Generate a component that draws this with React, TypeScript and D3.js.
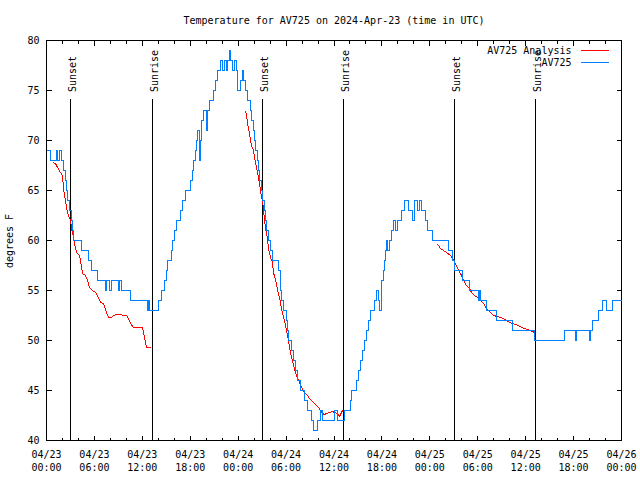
import { useEffect, useRef } from 'react';
import * as d3 from 'd3';

// hours since 2024-04-23 00:00 UTC
const START = Date.UTC(2024, 3, 23, 0, 0);
const END = Date.UTC(2024, 3, 26, 0, 0);

// AV725 observations (value holds from each hour until the next)
const obsHours = [
  0, 0.5, 1.25, 1.38, 1.63, 1.88, 2.13, 2.38, 2.5, 2.63,
  2.88, 3.13, 3.26, 3.32, 4.38, 5.32, 5.63, 6.35, 7.39, 7.51,
  7.95, 8.08, 9.02, 9.14, 9.39, 10.52, 12.65, 12.77, 12.9, 14.02,
  14.4, 14.78, 15.03, 15.21, 15.59, 15.78, 16.03, 16.34, 16.72, 17.03,
  17.41, 18.09, 18.28, 18.41, 18.6, 18.78, 18.97, 19.16, 19.28, 19.47,
  19.72, 20.04, 20.22, 20.47, 20.91, 21.22, 21.47, 21.85, 22.1, 22.29,
  22.54, 22.66, 22.92, 23.1, 23.29, 23.48, 23.73, 23.92, 24.23, 24.48,
  24.73, 24.92, 25.23, 25.54, 25.73, 25.92, 26.05, 26.23, 26.36, 26.55,
  26.67, 26.86, 27.05, 27.24, 27.36, 27.55, 27.8, 28.05, 28.24, 29.11,
  29.24, 29.36, 29.43, 29.68, 29.99, 30.18, 30.3, 30.62, 30.87, 31.18,
  31.49, 31.81, 32.31, 32.68, 33.12, 33.43, 33.94, 34.25, 34.5, 36.0,
  36.5, 37.32, 38.07, 38.25, 38.82, 39.07, 39.32, 39.57, 39.82, 40.07,
  40.32, 40.63, 41.07, 41.26, 41.51, 41.7, 41.89, 42.01, 42.2, 42.32,
  42.45, 42.57, 42.76, 42.95, 43.2, 43.45, 43.7, 43.95, 44.45, 44.83,
  45.33, 45.83, 46.08, 46.46, 46.65, 46.96, 47.46, 47.71, 48.34, 50.34,
  50.84, 51.09, 52.03, 52.97, 54.1, 54.22, 54.35, 55.1, 56.41, 58.35,
  61.11, 64.87, 66.18, 66.37, 68.0, 68.18, 68.37, 69.12, 69.56, 70.06,
  70.87, 72,
];
const obsTemps = [
  69, 68, 69, 68, 69, 68, 67, 66, 65, 64,
  63, 62, 61, 60, 59, 58, 57, 56, 55, 56,
  55, 56, 55, 56, 55, 54, 53, 54, 53, 54,
  55, 56, 57, 58, 59, 60, 61, 62, 63, 64,
  65, 66, 67, 68, 69, 70, 71, 68, 70, 72,
  73, 71, 73, 74, 75, 76, 77, 78, 77, 78,
  77, 78, 79, 78, 77, 78, 77, 75, 76, 77,
  76, 75, 74, 73, 72, 71, 70, 69, 68, 67,
  66, 65, 64, 63, 62, 61, 60, 59, 58, 57,
  56, 55, 54, 53, 52, 51, 50, 49, 48, 47,
  46, 45, 44, 43, 42, 41, 42, 43, 42, 43,
  42, 43, 44, 45, 46, 47, 48, 49, 50, 51,
  52, 53, 54, 55, 54, 53, 55, 56, 57, 58,
  59, 60, 59, 60, 61, 62, 61, 62, 63, 64,
  63, 62, 64, 63, 64, 63, 62, 61, 60, 59,
  58, 57, 56, 55, 54, 55, 54, 53, 52, 51,
  50, 51, 50, 51, 50, 51, 52, 53, 54, 53,
  54, 54,
];

// AV725 analysis, null = no analysis
const analysisHours = [
  0.79, 1.13, 1.38, 1.75, 2.0, 2.13, 2.25, 2.38, 2.5, 2.75,
  3.01, 3.13, 3.38, 3.51, 3.76, 3.88, 4.13, 4.26, 4.51, 4.88,
  5.13, 5.38, 5.76, 6.14, 6.51, 6.76, 7.14, 7.51, 7.8, 8.14,
  8.39, 8.77, 9.27, 9.64, 10.02, 10.27, 10.52, 10.89, 11.52, 12.02,
  12.27, 12.52, 13.06, 18,
  24.83, 25.04, 25.17, 25.42, 25.67, 25.92, 26.13, 26.3, 26.55, 26.67,
  26.8, 26.92, 27.05, 27.21, 27.42, 27.64, 27.8, 28.05, 28.3, 28.42,
  28.8, 28.93, 29.18, 29.39, 29.55, 29.8, 30.05, 30.3, 30.55, 30.93,
  31.3, 31.68, 31.93, 32.31, 32.68, 32.93, 33.18, 33.56, 33.81, 34.06,
  34.31, 34.56, 34.81, 35.06, 35.44, 35.81, 36.06, 36.44, 36.69, 36.94,
  37.07, 42,
  48.84, 49.09, 49.34, 49.71, 50.09, 50.59, 50.97, 51.34, 51.59, 51.97,
  52.22, 52.59, 52.97, 53.22, 53.59, 53.97, 54.35, 54.72, 55.1, 55.47,
  55.97, 56.47, 56.85, 57.22, 57.6, 57.98, 58.35, 58.73, 59.1, 59.48,
  59.86, 60.23, 60.61, 60.86, 61.11, 61.23,
];
const analysisTemps = [
  67.8, 67.7, 67.3, 66.8, 66.5, 65.3, 64.5, 64.0, 63.3, 62.5,
  62.0, 61.2, 60.3, 59.7, 58.8, 58.7, 58.5, 58.0, 56.7, 56.5,
  56.0, 55.3, 55.0, 54.8, 54.3, 53.8, 53.7, 52.8, 52.3, 52.3,
  52.5, 52.6, 52.6, 52.5, 52.5, 52.2, 51.7, 51.3, 51.3, 51.3,
  50.3, 49.3, 49.3, null,
  73.0, 72.7, 71.7, 70.7, 69.5, 69.0, 68.0, 67.3, 66.3, 65.7,
  65.0, 64.3, 64.0, 62.7, 61.3, 60.3, 59.2, 58.3, 57.8, 56.8,
  55.7, 55.0, 54.3, 53.3, 52.7, 52.0, 51.0, 50.0, 48.8, 47.5,
  46.5, 45.8, 45.3, 44.8, 44.5, 44.2, 44.0, 43.7, 43.5, 43.3,
  43.0, 42.7, 42.6, 42.7, 42.8, 42.9, 42.8, 42.7, 42.4, 42.8,
  43.0, null,
  59.7, 59.5, 59.2, 59.0, 58.8, 58.5, 58.0, 57.5, 57.0, 56.5,
  56.0, 55.5, 55.2, 54.8, 54.5, 54.3, 54.0, 53.7, 53.2, 52.9,
  52.5, 52.4, 52.3, 52.2, 52.0, 51.8, 51.7, 51.6, 51.5, 51.3,
  51.2, 51.1, 51.0, 50.9, 50.8, 50.7,
];

const sunTimes = [
  '2024-04-23T03:02Z', '2024-04-23T13:18Z',
  '2024-04-24T03:04Z', '2024-04-24T13:15Z',
  '2024-04-25T03:06Z', '2024-04-25T13:14Z',
];
const sunLabels = ['Sunset', 'Sunrise', 'Sunset', 'Sunrise', 'Sunset', 'Sunrise'];

const yTicks = [40, 45, 50, 55, 60, 65, 70, 75, 80];
const seriesNames = ['AV725 Analysis', 'AV725'];
const seriesColors = ['#ff0000', '#0080ff'];

const FONT = '"DejaVu Sans Mono", "Liberation Mono", monospace';

export default function App() {
  const svgRef = useRef<SVGSVGElement>(null);

  useEffect(() => {
    if (!svgRef.current) return;
    const svg = d3.select(svgRef.current);
    svg.selectAll('*').remove();

    const left = 46.5, right = 621.5, top = 40.5, bottom = 440.5;

    const x = d3.scaleUtc().domain([new Date(START), new Date(END)]).range([left, right]);
    const y = d3.scaleLinear().domain([40, 80]).range([bottom, top]);
    const toDate = (h: number) => new Date(START + h * 3600e3);
    const px = (v: number) => Math.round(v - 0.5) + 0.5;

    svg.append('rect').attr('width', 640).attr('height', 480).attr('fill', '#fff');

    const g = svg.append('g').attr('shape-rendering', 'crispEdges');

    // y ticks, both sides
    yTicks.forEach((t) => {
      const yy = px(y(t));
      g.append('line').attr('x1', left).attr('x2', left + 5).attr('y1', yy).attr('y2', yy).attr('stroke', '#000');
      g.append('line').attr('x1', right).attr('x2', right - 5).attr('y1', yy).attr('y2', yy).attr('stroke', '#000');
      svg.append('text')
        .attr('x', 39.5)
        .attr('y', yy + 3.5)
        .attr('text-anchor', 'end')
        .attr('font-family', FONT)
        .attr('font-size', 10)
        .text(t);
    });

    // x ticks: minor every 2h, major every 6h
    const minor = d3.utcHour.every(2)!.range(new Date(START), new Date(END + 1));
    minor.forEach((d) => {
      const isMajor = d.getUTCHours() % 6 === 0;
      const len = isMajor ? 5 : 3;
      const xx = px(x(d));
      g.append('line').attr('x1', xx).attr('x2', xx).attr('y1', bottom).attr('y2', bottom - len).attr('stroke', '#000');
      g.append('line').attr('x1', xx).attr('x2', xx).attr('y1', top).attr('y2', top + len).attr('stroke', '#000');
    });
    const major = d3.utcHour.every(6)!.range(new Date(START), new Date(END + 1));
    major.forEach((d) => {
      const t = svg.append('text')
        .attr('font-family', FONT)
        .attr('font-size', 10)
        .attr('text-anchor', 'middle');
      t.append('tspan').attr('x', x(d)).attr('y', 458).text(d3.utcFormat('%m/%d')(d));
      t.append('tspan').attr('x', x(d)).attr('y', 470.5).text(d3.utcFormat('%H:%M')(d));
    });

    // sunrise / sunset markers
    sunTimes.forEach((s, i) => {
      const xx = px(x(new Date(s)));
      g.append('line').attr('x1', xx).attr('x2', xx).attr('y1', 99).attr('y2', bottom).attr('stroke', '#000');
      svg.append('text')
        .attr('transform', `translate(${xx + 5},92) rotate(-90)`)
        .attr('font-family', FONT)
        .attr('font-size', 10)
        .text(sunLabels[i]);
    });

    // analysis line
    const analysis = analysisHours.map((h, i) => ({ date: toDate(h), temp: analysisTemps[i] }));
    svg.append('path')
      .datum(analysis)
      .attr('fill', 'none')
      .attr('stroke', seriesColors[0])
      .attr('stroke-width', 1)
      .attr('shape-rendering', 'crispEdges')
      .attr('d', d3.line<{ date: Date; temp: number | null }>()
        .defined((d) => d.temp !== null)
        .x((d) => x(d.date))
        .y((d) => y(d.temp as number)));

    // observations
    const obs = obsHours.map((h, i) => ({ date: toDate(h), temp: obsTemps[i] }));
    svg.append('path')
      .datum(obs)
      .attr('fill', 'none')
      .attr('stroke', seriesColors[1])
      .attr('stroke-width', 1)
      .attr('shape-rendering', 'crispEdges')
      .attr('d', d3.line<{ date: Date; temp: number }>()
        .curve(d3.curveStepAfter)
        .x((d) => x(d.date))
        .y((d) => px(y(d.temp))));

    // frame
    g.append('rect')
      .attr('x', left).attr('y', top)
      .attr('width', right - left).attr('height', bottom - top)
      .attr('fill', 'none').attr('stroke', '#000');

    // title & axis label
    svg.append('text')
      .attr('x', (left + right) / 2)
      .attr('y', 23.5)
      .attr('text-anchor', 'middle')
      .attr('font-family', FONT)
      .attr('font-size', 10)
      .text('Temperature for AV725 on 2024-Apr-23 (time in UTC)');

    svg.append('text')
      .attr('transform', 'translate(13,241) rotate(-90)')
      .attr('text-anchor', 'middle')
      .attr('font-family', FONT)
      .attr('font-size', 10)
      .text('degrees F');

    // legend
    seriesNames.forEach((name, i) => {
      const ly = 50.5 + i * 12;
      svg.append('text')
        .attr('x', 571.5)
        .attr('y', ly + 3.5)
        .attr('text-anchor', 'end')
        .attr('font-family', FONT)
        .attr('font-size', 10)
        .text(name);
      g.append('line')
        .attr('x1', 581).attr('x2', 609)
        .attr('y1', ly).attr('y2', ly)
        .attr('stroke', seriesColors[i]);
    });
  }, []);

  return (
    <svg
      ref={svgRef}
      width={640}
      height={480}
      style={{ position: 'fixed', left: 0, top: 0, background: '#fff' }}
    />
  );
}
